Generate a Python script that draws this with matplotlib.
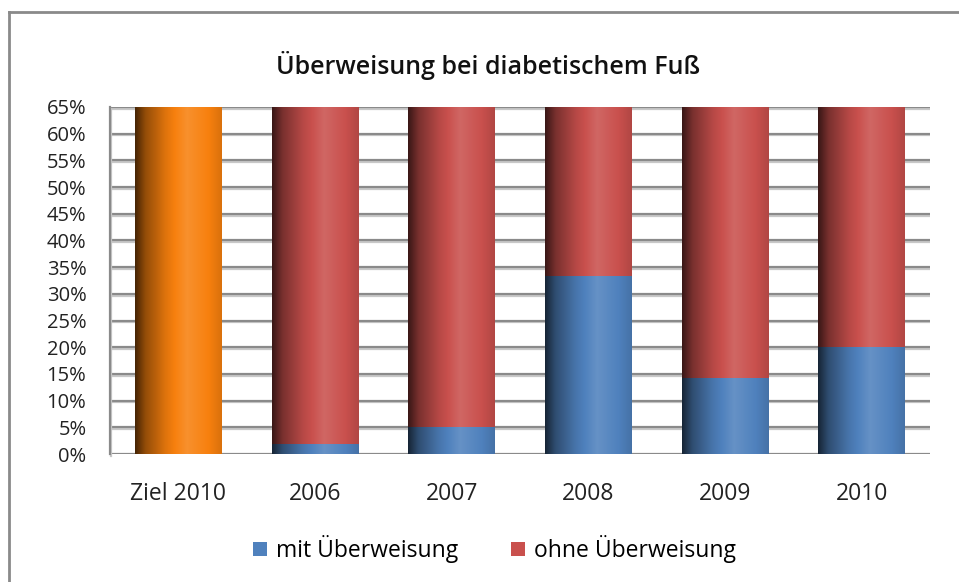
import numpy as np
import matplotlib
matplotlib.use("Agg")
import matplotlib.pyplot as plt
import matplotlib.patheffects as pe
from matplotlib.colors import to_rgb
from matplotlib.lines import Line2D
from matplotlib.patches import Patch

# ---- data ----
categories = ["Ziel 2010", "2006", "2007", "2008", "2009", "2010"]
target_value = 100.0          # Ziel 2010 (clipped at 65% by the axis)
years = ["2006", "2007", "2008", "2009", "2010"]
mit = [1.9, 5.0, 33.3, 14.3, 20.0]           # mit Überweisung (%)
ohne = [100 - v for v in mit]                 # ohne Überweisung (%)
yticks = list(range(0, 70, 5))
title = "Überweisung bei diabetischem Fuß"
legend_labels = ["mit Überweisung", "ohne Überweisung"]

plt.rcParams['font.family'] = ['Open Sans', 'DejaVu Sans']

fig = plt.figure(figsize=(9.59, 5.82), dpi=100)
ax = fig.add_axes([110/959, 1-454/582, (930-110)/959, (454-107)/582])

x = np.arange(len(categories))
width = 0.635
YMAX = 65

def gradient_colors(base, n=200):
    b = np.array(to_rgb(base))
    t = np.linspace(0, 1, n)
    f = np.interp(t, [0, 0.12, 0.35, 0.6, 0.85, 1.0], [0.28, 0.6, 0.9, 1.13, 1.0, 0.88])
    cols = np.empty((1, n, 3))
    for i in range(3):
        c = np.where(f <= 1, b[i] * f, b[i] + (1 - b[i]) * (f - 1))
        cols[0, :, i] = np.clip(c, 0, 1)
    return cols

def shade(bars, base):
    img = gradient_colors(base)
    for bar in bars:
        x0, y0 = bar.get_x(), bar.get_y()
        w, h = bar.get_width(), bar.get_height()
        top = min(y0 + h, YMAX)
        if top <= y0:
            continue
        ax.imshow(img, extent=(x0, x0 + w, y0, top), aspect='auto',
                  zorder=3, interpolation='bilinear')

blue = "#4F81BD"
red = "#C9504D"
orange = "#F7800E"

b_t = ax.bar(x[:1], [target_value], width, color=orange, zorder=2)
b_m = ax.bar(x[1:], mit, width, color=blue, zorder=2)
b_o = ax.bar(x[1:], ohne, width, bottom=mit, color=red, zorder=2)
shade(b_t, orange)
shade(b_m, blue)
shade(b_o, red)

ax.set_xlim(-0.5, len(categories) - 0.5)
ax.set_ylim(0, YMAX)
ax.set_yticks(yticks)
ax.set_yticklabels([f"{v}%" for v in yticks])
ax.set_xticks(x)
ax.set_xticklabels(categories)
ax.tick_params(axis='both', length=0, colors='#222222')
ax.tick_params(axis='x', labelsize=16.5, pad=20)
ax.tick_params(axis='y', labelsize=14.5, pad=17)

shadow = [pe.SimpleLineShadow(offset=(0.6, -1.3), shadow_color='#c8c8c8', alpha=1.0), pe.Normal()]
for v in yticks:
    ln = ax.axhline(v, color='#8a8a8a', lw=1.6, zorder=1)
    ln.set_path_effects(shadow)
for s in ['top', 'right', 'bottom']:
    ax.spines[s].set_visible(False)
ax.spines['left'].set_color('#8a8a8a')
ax.spines['left'].set_linewidth(1.6)
ax.spines['left'].set_path_effects(shadow)

fig.text(0.509, 1 - 65/582, title, ha='center', va='center', fontsize=18, fontweight='semibold', color='#111111')

handles = [Patch(facecolor=blue, edgecolor='none'), Patch(facecolor=red, edgecolor='none')]
fig.legend(handles, legend_labels, loc='center', bbox_to_anchor=(0.516, 1 - 549/582), ncol=2,
           frameon=False, fontsize=16.5, handlelength=0.6, handleheight=0.6, handletextpad=0.4,
           columnspacing=2.3)

fig.add_artist(Line2D([9/959, 1], [1 - 12/582, 1 - 12/582], transform=fig.transFigure,
                      color='#8a8a8a', lw=2))
fig.add_artist(Line2D([9/959, 9/959], [0, 1 - 12/582], transform=fig.transFigure,
                      color='#8a8a8a', lw=2))

fig.savefig("out.png", dpi=100)
